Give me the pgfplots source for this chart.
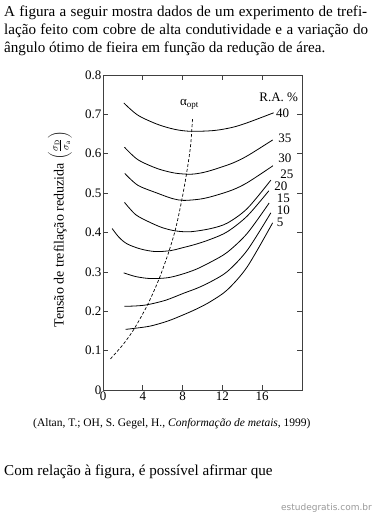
\documentclass[border=0pt]{standalone}
\usepackage{pgfplots}
\pgfplotsset{compat=1.18}
\usepackage{fontspec}
\setmainfont{Liberation Serif}
\newfontfamily\wmfont{DejaVu Sans}
\begin{document}
\begin{tikzpicture}
\useasboundingbox (0,0) rectangle (374bp,514bp);
\fill[white] (0,0) rectangle (374bp,514bp);
% header text
\node[anchor=base west, inner sep=0] at (4bp,497.3bp) {\fontsize{15.1bp}{18bp}\selectfont\makebox[363bp][s]{A figura a seguir mostra dados de um experimento de trefi-}};
\node[anchor=base west, inner sep=0] at (4bp,479bp) {\fontsize{15.1bp}{18bp}\selectfont\makebox[364bp][s]{lação feito com cobre de alta condutividade e a variação do}};
\node[anchor=base west, inner sep=0] at (4bp,461.3bp) {\fontsize{15.1bp}{18bp}\selectfont ângulo ótimo de fieira em função da redução de área.};
\begin{axis}[
  at={(103bp,124bp)}, anchor=south west,
  scale only axis, width=199bp, height=315bp,
  xmin=0, xmax=20, ymin=0, ymax=0.8,
  xtick={0,4,8,12,16}, ytick={0,0.1,0.2,0.3,0.4,0.5,0.6,0.7,0.8},
  xtick pos=both, ytick pos=both, xticklabel pos=lower, yticklabel pos=left,
  tick align=inside, major tick length=5bp,
  tick style={black!75, line width=0.7bp},
  axis line style={black!75, line width=0.8bp},
  ticklabel style={font=\fontsize{13bp}{15bp}\selectfont, /pgf/number format/assume math mode=true},
  yticklabel style={inner xsep=1.5bp, /pgf/number format/fixed, /pgf/number format/precision=1},
  xticklabel style={inner ysep=1.5bp},
  ylabel={Tensão de trefilação reduzida $\left(\frac{\sigma_{\mathrm{D}}}{\sigma_{\mathrm{a}}}\right)$},
  ylabel style={at={(axis description cs:-0.216,0.51)}, anchor=center, font=\fontsize{14bp}{16bp}\selectfont},
  cycle list={{black, solid, mark=none}},
  every axis plot/.append style={smooth, line width=0.8bp},
  clip=false,
]
% R.A. = 40 %
\addplot coordinates {(2.09,0.729) (3.5,0.698) (5.45,0.675) (7.2,0.662) (8.81,0.657) (11.16,0.659) (13,0.667) (14.53,0.679) (17.15,0.704)};
% 35 %
\addplot coordinates {(2.16,0.6165) (3.5,0.585) (5.45,0.5625) (7.2,0.551) (8.81,0.548) (10,0.552) (11.16,0.560) (13,0.576) (14.53,0.595) (17.05,0.635)};
% 30 %
\addplot coordinates {(2.19,0.55) (3.5,0.52) (5.45,0.5) (7,0.486) (8.13,0.4815) (9.8,0.485) (11.16,0.493) (13,0.508) (14.53,0.527) (17.08,0.5695)};
% 25 %
\addplot coordinates {(2.16,0.4765) (3.3,0.445) (4.78,0.425) (6,0.412) (7.3,0.404) (8.8,0.402) (10.83,0.41) (12.5,0.424) (14.5,0.461) (16.87,0.533)};
% 20 %
\addplot coordinates {(0.92,0.41) (1.6,0.388) (2.43,0.371) (3.8,0.358) (5.28,0.3515) (6.8,0.354) (7.8,0.36) (9.3,0.37) (10.83,0.383) (12.5,0.402) (14.5,0.442) (16.67,0.506)};
% 15 %
\addplot coordinates {(2.09,0.2975) (3.3,0.288) (4.78,0.283) (6.46,0.285) (7.8,0.293) (9.3,0.306) (10.83,0.325) (12.5,0.35) (14.5,0.398) (16.7,0.475)};
% 10 %
\addplot coordinates {(2.16,0.2125) (3.3,0.2135) (4.45,0.2165) (6.3,0.228) (8.13,0.246) (9.5,0.259) (10.83,0.275) (12.5,0.301) (14.5,0.355) (16.87,0.45)};
% 5 %
\addplot coordinates {(2.27,0.154) (3.3,0.157) (4.78,0.1625) (6.5,0.175) (8.13,0.1915) (9.5,0.207) (10.83,0.225) (12.5,0.2545) (14.5,0.313) (17.05,0.4245)};
% alpha_opt (dashed)
\addplot[black, smooth, mark=none, line width=0.7bp, dash pattern=on 3bp off 2bp] coordinates {(0.75,0.079) (2,0.115) (3.1,0.154) (4.45,0.215) (5.6,0.28) (6.6,0.35) (7.3,0.41) (7.9,0.48) (8.4,0.55) (8.8,0.62) (9.0,0.69)};
% labels
\begin{scope}[every node/.style={anchor=west, inner sep=0, font=\fontsize{13bp}{15bp}\selectfont}]
\node at (axis cs:17.38,0.704) {40};
\node at (axis cs:17.6,0.64) {35};
\node at (axis cs:17.6,0.5875) {30};
\node at (axis cs:17.8,0.548) {25};
\node at (axis cs:17.2,0.5165) {20};
\node at (axis cs:17.45,0.487) {15};
\node at (axis cs:17.45,0.456) {10};
\node at (axis cs:17.45,0.425) {5};
\node at (axis cs:15.7,0.743) {R.A. \%};
\node at (axis cs:7.73,0.725) {α\raisebox{-0.45ex}{\fontsize{9bp}{10bp}\selectfont opt}};
\end{scope}
\end{axis}
% source and question
\node[anchor=base west, inner sep=0] at (33bp,87.3bp) {\fontsize{11.5bp}{14bp}\selectfont (Altan, T.; OH, S. Gegel, H., \textit{Conformação de metais}, 1999)};
\node[anchor=base west, inner sep=0] at (4bp,39bp) {\fontsize{15.1bp}{18bp}\selectfont Com relação à figura, é possível afirmar que};
\node[anchor=base east, inner sep=0, text=black!40] at (372bp,4bp) {\wmfont\fontsize{9bp}{10bp}\selectfont estudegratis.com.br};
\end{tikzpicture}
\end{document}
